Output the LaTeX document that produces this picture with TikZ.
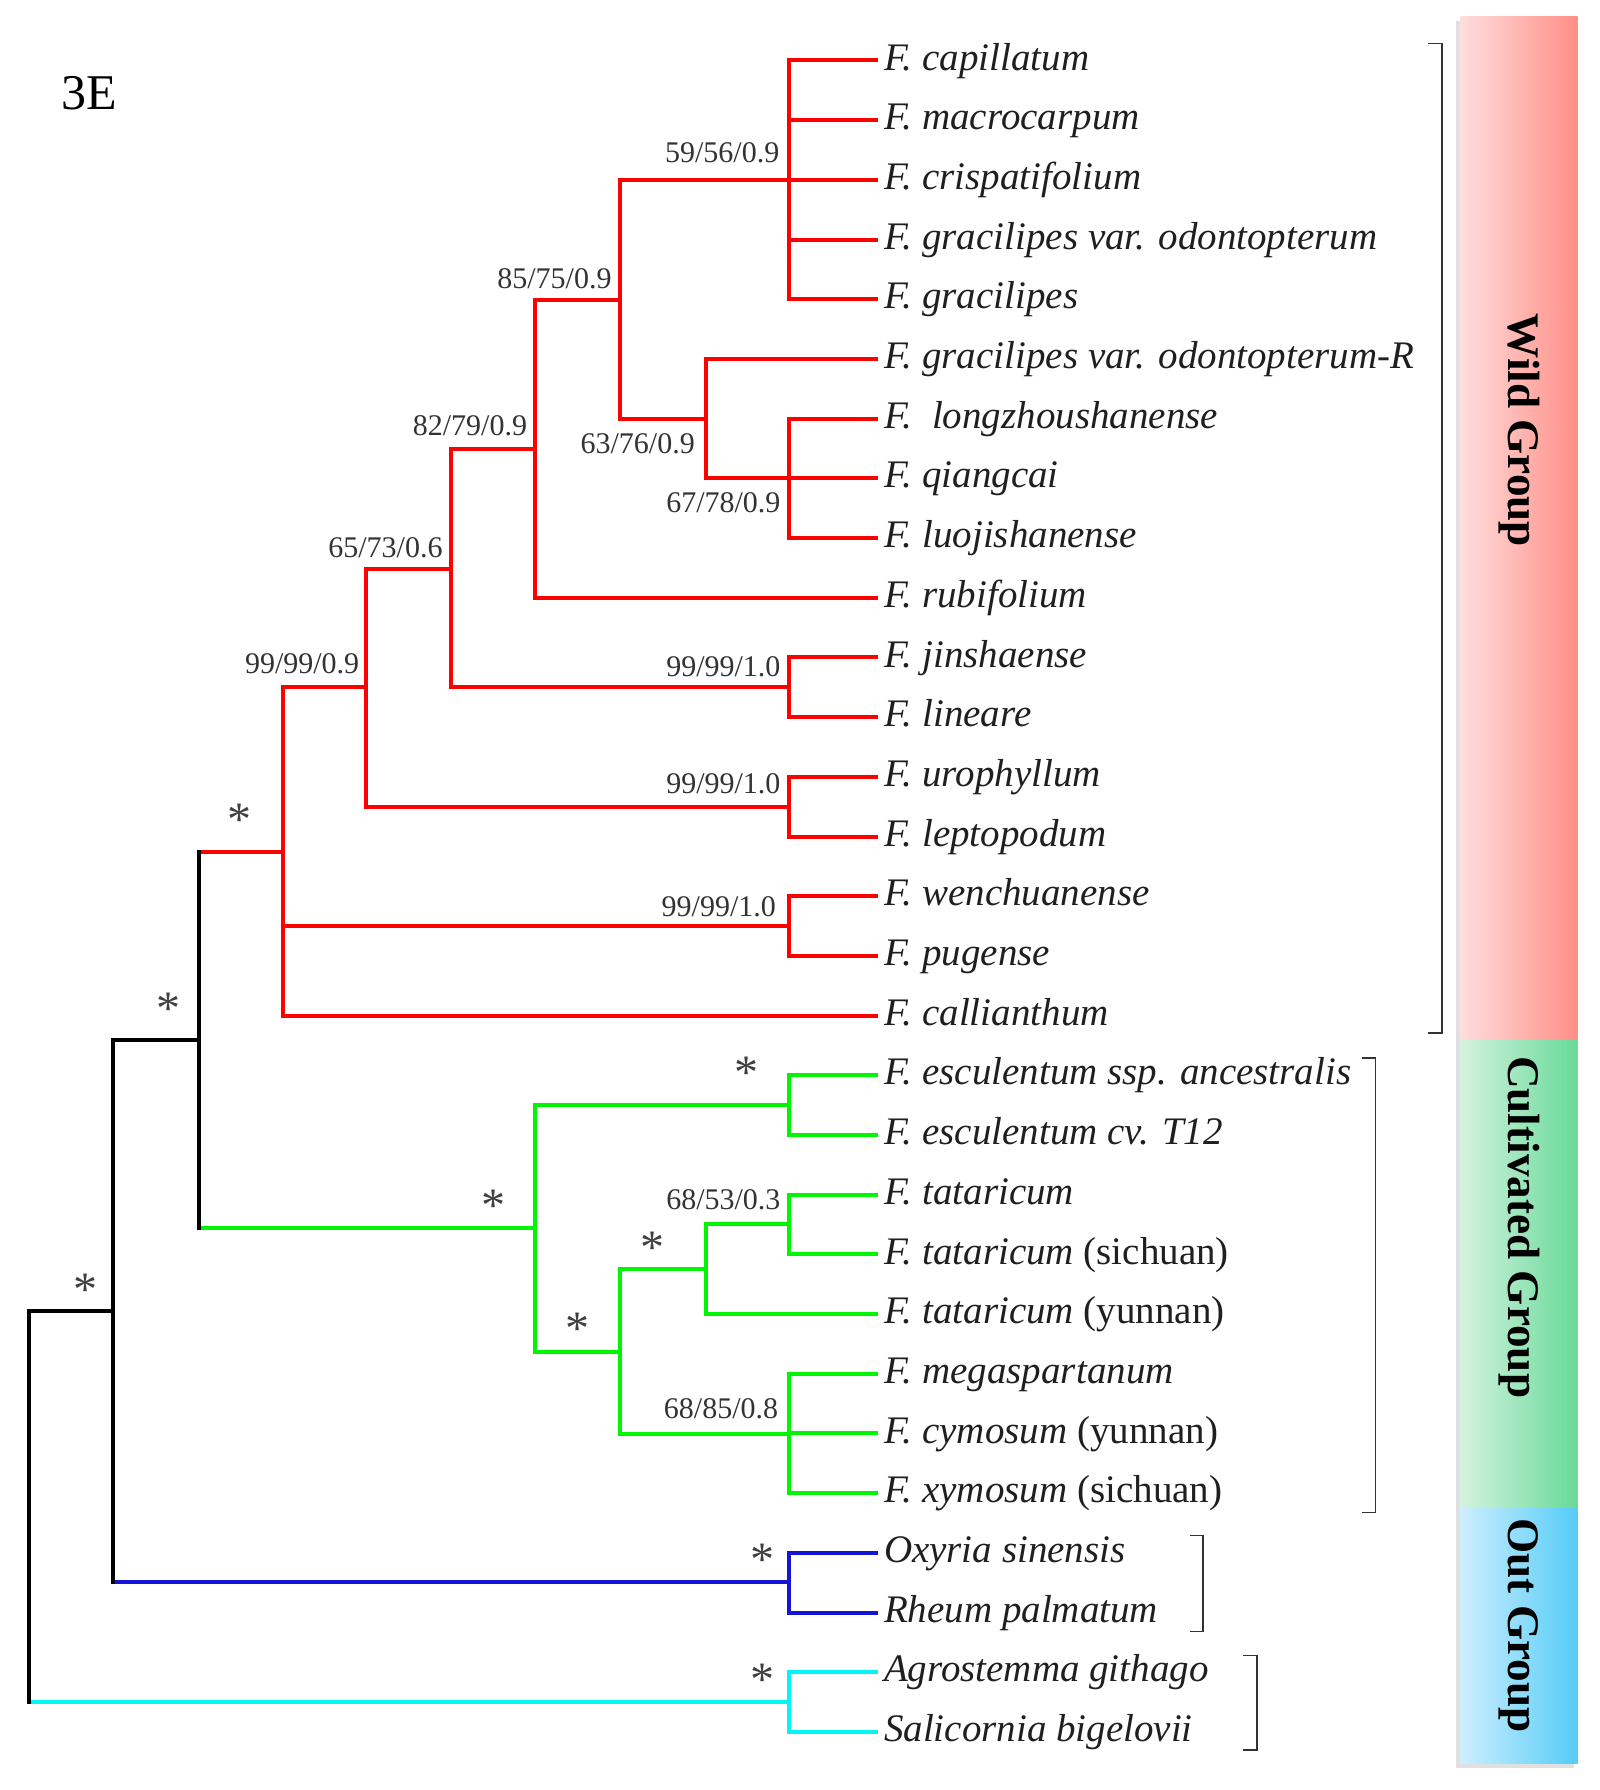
\documentclass[tikz,border=0pt]{standalone}
\usepackage{fontspec}
\setmainfont{Liberation Serif}
\usepackage{tikz}
\usetikzlibrary{positioning}

\definecolor{wildred}{RGB}{255,0,0}
\definecolor{cultgreen}{RGB}{0,245,0}
\definecolor{outblue}{RGB}{20,20,215}
\definecolor{outcyan}{RGB}{0,245,245}
\definecolor{wildL}{RGB}{255,222,222}
\definecolor{wildR}{RGB}{255,142,134}
\definecolor{cultL}{RGB}{212,242,224}
\definecolor{cultR}{RGB}{104,218,152}
\definecolor{outL}{RGB}{206,238,255}
\definecolor{outR}{RGB}{84,204,246}

\begin{document}
\begin{tikzpicture}[x=0.5707pt,y=-0.5707pt,
    branch/.style={line width=2pt,line cap=rect},
    wild/.style={branch,wildred},
    cult/.style={branch,cultgreen},
    outb/.style={branch,outblue},
    outc/.style={branch,outcyan},
    spine/.style={branch,black},
    spp/.style={anchor=west,inner xsep=4pt,inner ysep=0pt,text height=2.1ex,text depth=0pt,
      text=black!88,font=\fontsize{19.5}{22}\selectfont\itshape},
    supp/.style={anchor=east,inner sep=0pt,text=black!80,font=\fontsize{15}{16}\selectfont},
    aster/.style={inner sep=0pt,text=black!75,font=\fontsize{24}{24}\selectfont},
    grp/.style={rotate=-90,text=black,font=\fontsize{22.6}{24}\selectfont\bfseries},
    brk/.style={line width=0.8pt,black!80}]
\useasboundingbox (0,0) rectangle (1401,1568);

\node at (78,82) {\fontsize{25}{28}\selectfont 3E};

% taxa
\foreach \nm/\txt [count=\i from 0] in {
    cap/{F. capillatum}, mac/{F. macrocarpum}, cri/{F. crispatifolium},
    grv/{F. gracilipes var. odontopterum}, gra/{F. gracilipes},
    grr/{F. gracilipes var. odontopterum-R}, lon/{F.\ \ longzhoushanense},
    qia/{F. qiangcai}, luo/{F. luojishanense}, rub/{F. rubifolium},
    jin/{F. jinshaense}, lin/{F. lineare}, uro/{F. urophyllum},
    lep/{F. leptopodum}, wen/{F. wenchuanense}, pug/{F. pugense},
    cal/{F. callianthum}, ess/{F. esculentum ssp. ancestralis},
    esc/{F. esculentum cv. T12}, tat/{F. tataricum},
    tsc/{F. tataricum \textup{(sichuan)}}, tyn/{F. tataricum \textup{(yunnan)}},
    meg/{F. megaspartanum}, cym/{F. cymosum \textup{(yunnan)}},
    xym/{F. xymosum \textup{(sichuan)}}, oxy/{Oxyria sinensis},
    rhe/{Rheum palmatum}, agr/{Agrostemma githago}, sal/{Salicornia bigelovii}}
  \node[spp] (\nm) at (767,{53+52.29*\i}) {\txt};

% internal nodes
\coordinate (n59) at (691,158);
\coordinate (n67) at (691,419);
\coordinate (n63) at (618,367);
\coordinate (n85) at (543,263);
\coordinate (n82) at (469,393.5);
\coordinate (njin) at (691,602);
\coordinate (n65) at (395,498);
\coordinate (nuro) at (691,706.5);
\coordinate (n99) at (321,602);
\coordinate (nwen) at (691,811);
\coordinate (nwild) at (248,746);
\coordinate (nesc) at (691,968);
\coordinate (ntat) at (691,1072.5);
\coordinate (ntat2) at (618,1111.75);
\coordinate (nmeg) at (691,1256);
\coordinate (ncul2) at (543,1184);
\coordinate (ncul) at (469,1076);
\coordinate (nA) at (174,911);
\coordinate (noxy) at (691,1386);
\coordinate (nB) at (99,1148.5);
\coordinate (nagr) at (691,1491);
\coordinate (root) at (25,1320);

% horizontal branches
\foreach \p/\c in {n59/cap.west, n59/mac.west, n59/cri.west, n59/grv.west, n59/gra.west,
    n85/n59, n63/grr.west, n63/n67, n67/lon.west, n67/qia.west, n67/luo.west,
    n85/n63, n82/n85, n82/rub.west, n65/n82, n65/njin, njin/jin.west, njin/lin.west,
    n99/n65, n99/nuro, nuro/uro.west, nuro/lep.west, nwild/n99, nwild/nwen,
    nwen/wen.west, nwen/pug.west, nwild/cal.west, nA/nwild}
  \draw[wild] (\p |- \c) -- (\c);
\foreach \p/\c in {nesc/ess.west, nesc/esc.west, ncul/nesc, ntat/tat.west, ntat/tsc.west,
    ntat2/ntat, ntat2/tyn.west, nmeg/meg.west, nmeg/cym.west, nmeg/xym.west,
    ncul2/ntat2, ncul2/nmeg, ncul/ncul2, nA/ncul}
  \draw[cult] (\p |- \c) -- (\c);
\foreach \p/\c in {noxy/oxy.west, noxy/rhe.west, nB/noxy}
  \draw[outb] (\p |- \c) -- (\c);
\foreach \p/\c in {nagr/agr.west, nagr/sal.west, root/nagr}
  \draw[outc] (\p |- \c) -- (\c);
\foreach \p/\c in {nB/nA, root/nB}
  \draw[spine] (\p |- \c) -- (\c);

% vertical branches
\foreach \n/\a/\b in {n59/cap/gra, n67/lon/luo, n63/grr/n67, n85/n59/n63, n82/n85/rub,
    njin/jin/lin, n65/n82/njin, nuro/uro/lep, n99/n65/nuro, nwen/wen/pug, nwild/n99/cal}
  \draw[wild] (\n |- \a) -- (\n |- \b);
\foreach \n/\a/\b in {nesc/ess/esc, ntat/tat/tsc, ntat2/ntat/tyn, nmeg/meg/xym,
    ncul2/ntat2/nmeg, ncul/nesc/ncul2}
  \draw[cult] (\n |- \a) -- (\n |- \b);
\draw[outb] (noxy |- oxy) -- (noxy |- rhe);
\draw[outc] (nagr |- agr) -- (nagr |- sal);
\foreach \n/\a/\b in {nA/nwild/ncul, nB/nA/noxy, root/nB/nagr}
  \draw[spine] (\n |- \a) -- (\n |- \b);

% support values
\node[supp] at ([shift={(-8,-24)}]n59) {59/56/0.9};
\node[supp] at ([shift={(-7,-19)}]n85) {85/75/0.9};
\node[supp] at ([shift={(-7,-21)}]n82) {82/79/0.9};
\node[supp] at ([shift={(-9,22)}]n63) {63/76/0.9};
\node[supp] at ([shift={(-7,21)}]n67) {67/78/0.9};
\node[supp] at ([shift={(-7,-18)}]n65) {65/73/0.6};
\node[supp] at ([shift={(-6,-21)}]n99) {99/99/0.9};
\node[supp] at ([shift={(-7,-18)}]njin) {99/99/1.0};
\node[supp] at ([shift={(-7,-20)}]nuro) {99/99/1.0};
\node[supp] at ([shift={(-11,-17)}]nwen) {99/99/1.0};
\node[supp] at ([shift={(-7,-22)}]ntat) {68/53/0.3};
\node[supp] at ([shift={(-9,-22)}]nmeg) {68/85/0.8};

\node[aster] at ([shift={(-38,-28)}]nwild) {*};
\node[aster] at ([shift={(-26,-27)}]nA) {*};
\node[aster] at ([shift={(-24,-19)}]nB) {*};
\node[aster] at ([shift={(-37,-20)}]ncul) {*};
\node[aster] at ([shift={(-37,-20)}]ncul2) {*};
\node[aster] at ([shift={(-46,-19)}]ntat2) {*};
\node[aster] at ([shift={(-37,-28)}]nesc) {*};
\node[aster] at ([shift={(-23,-20)}]noxy) {*};
\node[aster] at ([shift={(-23,-20)}]nagr) {*};

% group bars
\fill[black!12] (1275,18) rectangle (1379,1549);
\shade[left color=wildL,right color=wildR] (1279,14.6) rectangle (1382,911);
\shade[left color=cultL,right color=cultR] (1279,911) rectangle (1382,1321);
\shade[left color=outL,right color=outR] (1279,1321) rectangle (1382,1545);
\node[grp] (wildlab) at (1331,377) {Wild Group};
\node[grp] (cultlab) at (1331,1075) {Cultivated Group};
\node[grp] (outlab) at (1330,1424) {Out Group};

% brackets
\draw[brk] (1251,38) -- (1263,38) -- (1263,905) -- (1251,905);
\draw[brk] (1193,927) -- (1205,927) -- (1205,1325) -- (1193,1325);
\draw[brk] (1042,1345) -- (1054,1345) -- (1054,1429) -- (1042,1429);
\draw[brk] (1089,1450) -- (1101,1450) -- (1101,1533) -- (1089,1533);
\end{tikzpicture}
\end{document}
